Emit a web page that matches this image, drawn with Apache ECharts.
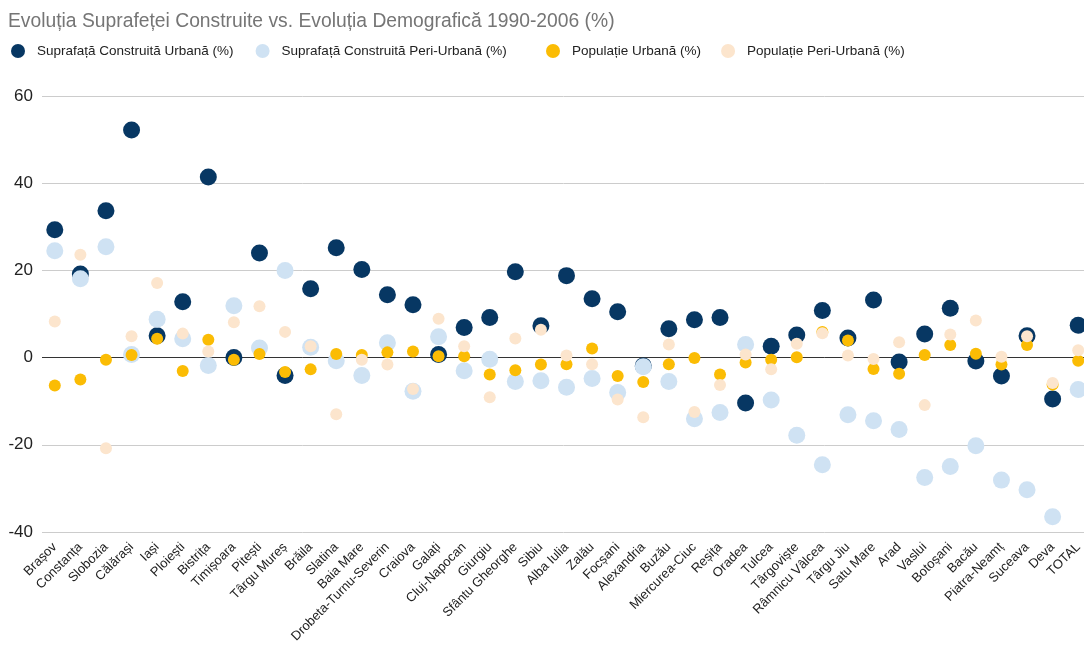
<!DOCTYPE html>
<html>
<head>
<meta charset="utf-8">
<script src="https://cdn.jsdelivr.net/npm/echarts@6/dist/echarts.min.js"></script>
<style>
  html, body { margin: 0; padding: 0; background: #fff; }
  #chart { width: 1084px; height: 648px; }
</style>
</head>
<body>
<div id="chart"></div>
<script>
const cities = ['Brașov', 'Constanța', 'Slobozia', 'Călărași', 'Iași', 'Ploiești', 'Bistrița', 'Timișoara', 'Pitești', 'Târgu Mureș',
  'Brăila', 'Slatina', 'Baia Mare', 'Drobeta-Turnu-Severin', 'Craiova', 'Galați', 'Cluj-Napocan', 'Giurgiu', 'Sfântu Gheorghe', 'Sibiu',
  'Alba Iulia', 'Zalău', 'Focșani', 'Alexandria', 'Buzău', 'Miercurea-Ciuc', 'Reșița', 'Oradea', 'Tulcea', 'Târgoviște',
  'Râmnicu Vâlcea', 'Târgu Jiu', 'Satu Mare', 'Arad', 'Vaslui', 'Botoșani', 'Bacău', 'Piatra-Neamț', 'Suceava', 'Deva', 'TOTAL'];

const seriesNames = ['Suprafață Construită Urbană (%)', 'Suprafață Construită Peri-Urbană (%)', 'Populație Urbană (%)', 'Populație Peri-Urbană (%)'];

// Suprafață Construită Urbană (%)
const builtUrban = [29.3, 19.2, 33.7, 52.2, 5.0, 12.8, 41.4, 0.0, 24.0, -4.1,
  15.8, 25.2, 20.2, 14.4, 12.1, 0.7, 6.9, 9.2, 19.7, 7.3,
  18.8, 13.5, 10.5, -1.9, 6.6, 8.7, 9.2, -10.4, 2.6, 5.2,
  10.8, 4.5, 13.2, -1.0, 5.4, 11.3, -0.8, -4.2, 5.0, -9.5, 7.4];

// Suprafață Construită Peri-Urbană (%)
const builtPeri = [24.5, 18.1, 25.4, 0.7, 8.8, 4.3, -1.8, 11.9, 2.2, 20.0,
  2.4, -0.7, -4.1, 3.4, -7.7, 4.8, -3.0, -0.4, -5.5, -5.3,
  -6.8, -4.8, -8.0, -2.1, -5.5, -14.0, -12.6, 3.0, -9.7, -17.8,
  -24.6, -13.1, -14.5, -16.5, -27.5, -25.0, -20.2, -28.1, -30.3, -36.5, -7.3];

// Populație Urbană (%)
const popUrban = [-6.4, -5.0, -0.5, 0.6, 4.3, -3.1, 4.1, -0.5, 0.8, -3.3,
  -2.7, 0.8, 0.6, 1.2, 1.4, 0.3, 0.3, -3.9, -2.9, -1.6,
  -1.5, 2.1, -4.2, -5.6, -1.5, -0.1, -3.9, -1.1, -0.5, 0.1,
  5.9, 3.9, -2.6, -3.7, 0.6, 2.9, 0.9, -1.6, 2.9, -6.2, -0.7];

// Populație Peri-Urbană (%)
const popPeri = [8.3, 23.6, -20.8, 4.9, 17.1, 5.5, 1.4, 8.1, 11.8, 5.9,
  2.6, -13.0, -0.5, -1.6, -7.2, 8.9, 2.6, -9.1, 4.4, 6.4,
  0.5, -1.5, -9.6, -13.7, 3.0, -12.5, -6.3, 0.7, -2.7, 3.2,
  5.6, 0.5, -0.3, 3.5, -10.9, 5.3, 8.5, 0.2, 4.9, -5.8, 1.7];

const yTicks = [-40, -20, 0, 20, 40, 60];

const font = 'Liberation Sans, Arial, sans-serif';
const chart = echarts.init(document.getElementById('chart'));

// two legend blocks so the spacing between the pairs matches the original
const legendBase = {
  top: 39,
  icon: 'circle',
  itemWidth: 14,
  itemHeight: 14,
  textStyle: { color: '#222', fontSize: 13.5, padding: [0, 0, 0, 7], fontFamily: font }
};

const option = {
  animation: false,
  title: {
    text: 'Evoluția Suprafeței Construite vs. Evoluția Demografică 1990-2006 (%)',
    left: 3,
    top: 7,
    textStyle: { color: '#757575', fontSize: 19.3, fontWeight: 'normal', fontFamily: font }
  },
  legend: [
    Object.assign({}, legendBase, { left: 6, itemGap: 22, data: seriesNames.slice(0, 2) }),
    Object.assign({}, legendBase, { left: 541, itemGap: 20, data: seriesNames.slice(2) })
  ],
  grid: { left: 42, right: -7, top: 96, bottom: 116, outerBoundsMode: 'none', containLabel: false },
  xAxis: {
    type: 'category',
    data: cities,
    boundaryGap: true,
    axisLine: { show: false },
    axisTick: { show: false },
    axisLabel: {
      interval: 0,
      rotate: 45,
      margin: 13,
      color: '#222',
      fontSize: 13,
      fontFamily: font
    }
  },
  yAxis: {
    type: 'value',
    min: yTicks[0],
    max: yTicks[yTicks.length - 1],
    interval: 20,
    axisLine: { show: false },
    axisTick: { show: false },
    axisLabel: { color: '#222', fontSize: 17, margin: 9, fontFamily: font },
    splitLine: {
      lineStyle: {
        // the zero line is darker than the rest
        color: yTicks.map(v => v === 0 ? '#333' : '#ccc'),
        width: 1
      }
    }
  },
  series: [
    {
      name: seriesNames[0],
      type: 'scatter',
      data: builtUrban,
      symbolSize: 17,
      itemStyle: { color: '#073763', opacity: 1 }
    },
    {
      name: seriesNames[1],
      type: 'scatter',
      data: builtPeri,
      symbolSize: 17,
      itemStyle: { color: '#cfe2f3', opacity: 1 }
    },
    {
      name: seriesNames[2],
      type: 'scatter',
      data: popUrban,
      symbolSize: 12,
      itemStyle: { color: '#fbbc04', opacity: 1 }
    },
    {
      name: seriesNames[3],
      type: 'scatter',
      data: popPeri,
      symbolSize: 12,
      itemStyle: { color: '#fce5cd', opacity: 1 }
    }
  ]
};

chart.setOption(option);
</script>
</body>
</html>
